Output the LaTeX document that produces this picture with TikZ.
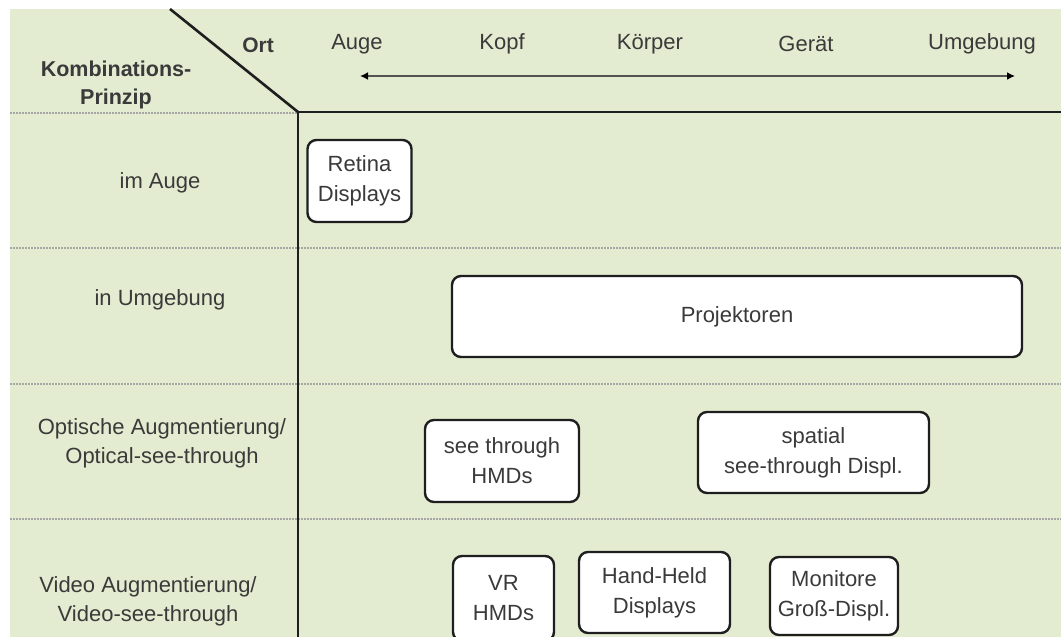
\documentclass[tikz,border=0pt]{standalone}
\usepackage{fontspec}
\setmainfont{Liberation Sans}
\usetikzlibrary{arrows.meta}
\definecolor{bg}{HTML}{E3ECD0}
\definecolor{txt}{HTML}{3A3A3A}
\definecolor{frame}{HTML}{1E1E1E}
\begin{document}
\begin{tikzpicture}[x=1pt,y=-1pt,
  box/.style={draw=frame,line width=2.4pt,fill=white,rounded corners=9pt,align=center,
    text=txt,font=\fontsize{22}{30}\selectfont,inner sep=0pt},
  rowlab/.style={text=txt,align=center,font=\fontsize{22}{29}\selectfont},
  axlab/.style={text=txt,font=\fontsize{22}{24}\selectfont},
  sep/.style={draw=gray!70,line width=1.3pt,dash pattern=on 1.5pt off 1.5pt},
  thick line/.style={draw=frame,line width=2.6pt}]
\useasboundingbox (0,0) rectangle (1061,637);
\fill[white] (0,0) rectangle (1061,637);
\fill[bg] (10,9) rectangle (1061,637);
% separators
\draw[sep] (10,113) -- (298,113);
\draw[sep] (10,248) -- (1061,248);
\draw[sep] (10,384) -- (1061,384);
\draw[sep] (10,519) -- (1061,519);
% frame lines
\coordinate (dtop) at (170,9);
\coordinate (corner) at (298,112);
\coordinate (hend) at (1061,112);
\coordinate (vend) at (298,637);
\draw[thick line] (dtop) -- (corner);
\draw[thick line] (corner) -- (hend);
\draw[thick line] (corner) -- (vend);
% header
\node[text=txt,font=\bfseries\fontsize{21}{24}\selectfont] (ort) at (258,45) {Ort};
\node[text=txt,font=\bfseries\fontsize{21.5}{28}\selectfont,align=center] (komb) at (116,85) {Kombinations-\\Prinzip};
\node[axlab] (auge) at (357,44) {Auge};
\node[axlab] (kopf) at (502,44) {Kopf};
\node[axlab] (koerper) at (650,44) {Körper};
\node[axlab] (geraet) at (806,44) {Gerät};
\node[axlab] (umg) at (982,44) {Umgebung};
\coordinate (al) at (360,76);
\coordinate (ar) at (1015,76);
\draw[draw=gray!65!black,line width=2.2pt,{Latex[length=8pt,width=8pt,black]}-{Latex[length=8pt,width=8pt,black]}] (al) -- (ar);
% row labels
\node[rowlab] (r1) at (160,183) {im Auge};
\node[rowlab] (r2) at (160,300) {in Umgebung};
\node[rowlab] (r3) at (162,443) {Optische Augmentierung/\\Optical-see-through};
\node[rowlab] (r4) at (148,601) {Video Augmentierung/\\Video-see-through};
% boxes
\node[box,minimum width=104pt,minimum height=82pt] (retina) at (359.5,181) {Retina\\Displays};
\node[box,minimum width=570pt,minimum height=81pt] (proj) at (737,316.5) {Projektoren};
\node[box,minimum width=154pt,minimum height=82pt] (seeth) at (502,461) {see through\\HMDs};
\node[box,minimum width=231pt,minimum height=81pt] (spatial) at (813.5,452.5) {spatial\\see-through Displ.};
\node[box,minimum width=101pt,minimum height=85pt] (vr) at (503.5,598.5) {VR\\HMDs};
\node[box,minimum width=151pt,minimum height=81pt] (hand) at (654.5,592.5) {Hand-Held\\Displays};
\node[box,minimum width=128pt,minimum height=78pt] (mon) at (834,596) {Monitore\\Groß-Displ.};
\end{tikzpicture}
\end{document}
